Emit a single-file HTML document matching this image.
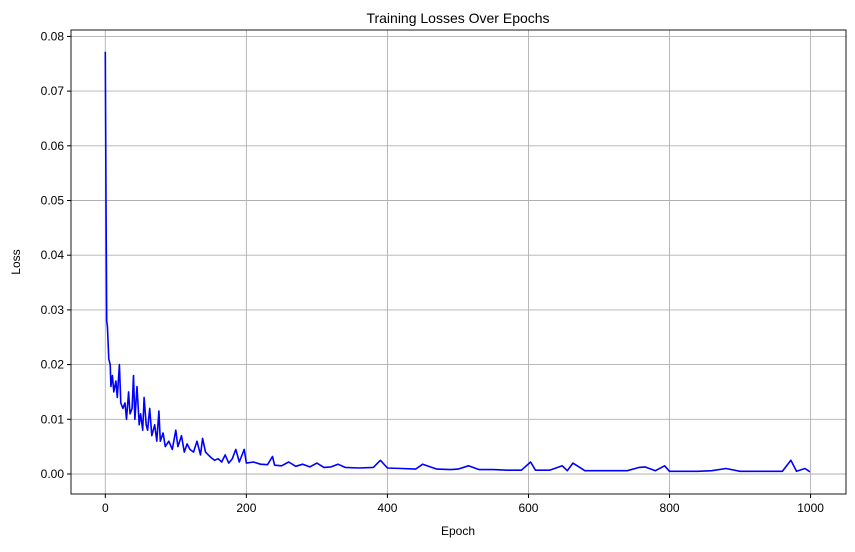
<!DOCTYPE html>
<html><head><meta charset="utf-8"><style>
body{margin:0;background:#fff;font-family:"Liberation Sans",sans-serif;}
svg text{font-family:"Liberation Sans",sans-serif;fill:#000;}
</style></head><body>
<svg id="chart" width="855" height="547" viewBox="0 0 855 547">
<text x="458" y="23" font-size="14" text-anchor="middle">Training Losses Over Epochs</text>
<g id="grid"></g>
<g id="ticks"></g>
<path id="line" fill="none" stroke="#0000ff" stroke-width="1.6" stroke-linejoin="round"/>
<rect x="71" y="30" width="775" height="464" fill="none" stroke="#000" stroke-width="0.9"/>
<text x="458" y="535" font-size="12" text-anchor="middle">Epoch</text>
<text x="20" y="262" font-size="12" text-anchor="middle" transform="rotate(-90 20 262)">Loss</text>
</svg>
<script>
const epochs=[0,1,2,3,5,7,8,10,12,15,17,20,22,25,28,30,33,35,38,40,42,45,48,50,53,55,58,60,63,66,70,73,76,78,82,85,90,95,100,103,108,112,116,120,125,130,135,138,142,146,150,155,160,165,170,175,180,185,190,197,200,210,220,230,237,240,250,260,270,280,290,300,310,320,330,340,360,380,390,400,420,440,450,470,490,500,515,530,550,570,590,603,610,630,648,655,663,680,700,720,740,757,765,780,793,800,820,840,860,880,900,920,940,960,972,980,992,999];
const losses=[0.0772,0.05,0.028,0.027,0.021,0.02,0.016,0.018,0.015,0.017,0.014,0.02,0.013,0.012,0.013,0.01,0.015,0.011,0.012,0.018,0.01,0.016,0.009,0.011,0.008,0.014,0.009,0.008,0.012,0.007,0.009,0.006,0.0115,0.006,0.0075,0.005,0.006,0.0045,0.008,0.005,0.007,0.004,0.0055,0.0045,0.004,0.006,0.0035,0.0065,0.004,0.0035,0.003,0.0025,0.0028,0.0022,0.0035,0.002,0.0028,0.0045,0.0022,0.0045,0.002,0.0022,0.0018,0.0017,0.0032,0.0016,0.0015,0.0022,0.0014,0.0018,0.0013,0.002,0.0012,0.0013,0.0018,0.0012,0.0011,0.0012,0.0025,0.0011,0.001,0.0009,0.0018,0.0009,0.0008,0.0009,0.0015,0.0008,0.0008,0.0007,0.0007,0.0022,0.0007,0.0007,0.0015,0.0006,0.002,0.0006,0.0006,0.0006,0.0006,0.0012,0.0013,0.0006,0.0015,0.0005,0.0005,0.0005,0.0006,0.001,0.0005,0.0005,0.0005,0.0005,0.0025,0.0005,0.001,0.0004];
const xTicks=[0,200,400,600,800,1000];
const yTicks=[0,0.01,0.02,0.03,0.04,0.05,0.06,0.07,0.08];
const xs=v=>105.3+v*0.7053;
const ys=v=>474-v*5470;
const NS="http://www.w3.org/2000/svg";
const grid=document.getElementById('grid'),ticks=document.getElementById('ticks');
xTicks.forEach(t=>{
 const l=document.createElementNS(NS,'line');
 
 
 l.setAttribute('x1',xs(t));l.setAttribute('x2',xs(t));l.setAttribute('y1',30);l.setAttribute('y2',494);
 l.setAttribute('stroke','#b0b0b0');l.setAttribute('stroke-width','0.9');grid.appendChild(l);
 const k=document.createElementNS(NS,'line');
 k.setAttribute('x1',xs(t));k.setAttribute('x2',xs(t));k.setAttribute('y1',494);k.setAttribute('y2',498);k.setAttribute('stroke','#000');ticks.appendChild(k);
 const tx=document.createElementNS(NS,'text');
 
 
 tx.setAttribute('x',xs(t));tx.setAttribute('y',512);tx.setAttribute('font-size','12');tx.setAttribute('text-anchor','middle');tx.textContent=t;ticks.appendChild(tx);
});
yTicks.forEach(t=>{
 const l=document.createElementNS(NS,'line');
 
 
 l.setAttribute('x1',71);l.setAttribute('x2',846);l.setAttribute('y1',ys(t));l.setAttribute('y2',ys(t));
 l.setAttribute('stroke','#b0b0b0');l.setAttribute('stroke-width','0.9');grid.appendChild(l);
 const k=document.createElementNS(NS,'line');
 k.setAttribute('x1',67);k.setAttribute('x2',71);k.setAttribute('y1',ys(t));k.setAttribute('y2',ys(t));k.setAttribute('stroke','#000');ticks.appendChild(k);
 const tx=document.createElementNS(NS,'text');
 
 
 tx.setAttribute('x',64);tx.setAttribute('y',ys(t)+4);tx.setAttribute('font-size','12');tx.setAttribute('text-anchor','end');tx.textContent=t.toFixed(2);ticks.appendChild(tx);
});
document.getElementById('line').setAttribute('d',epochs.map((e,i)=>(i?'L':'M')+xs(e).toFixed(1)+' '+ys(losses[i]).toFixed(1)).join(''));
</script>
</body></html>
